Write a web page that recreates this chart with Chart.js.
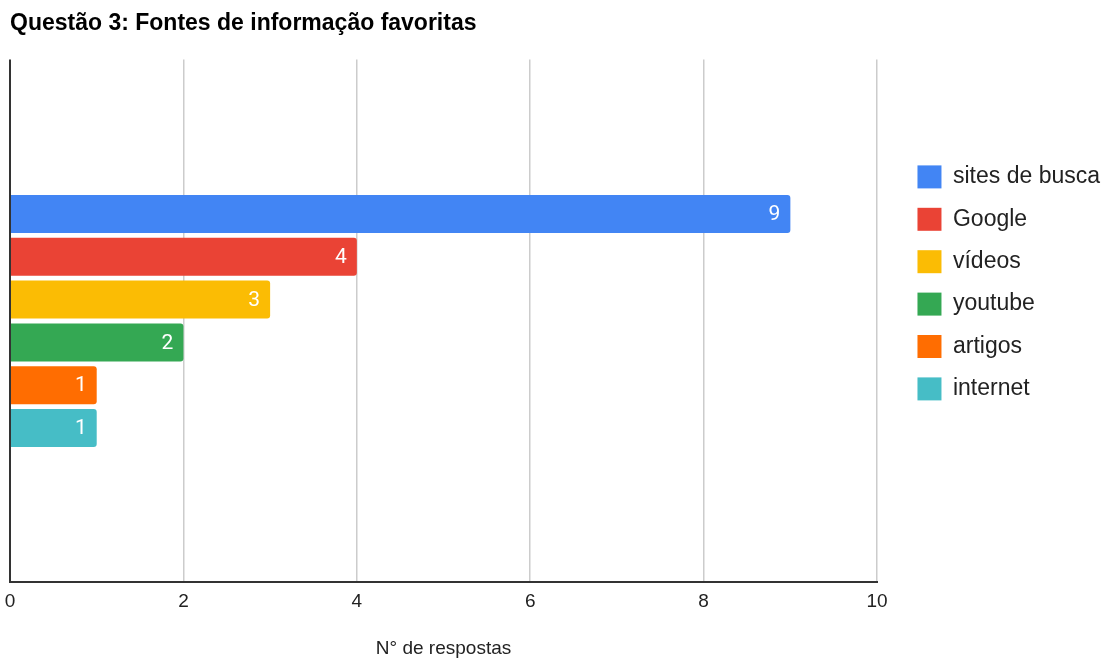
<!DOCTYPE html>
<html lang="pt">
<head>
<meta charset="utf-8">
<title>Questão 3</title>
<script src="https://cdn.jsdelivr.net/npm/chart.js@4"></script>
<style>
  html, body { margin: 0; padding: 0; background: #fff; }
  #chart { display: block; }
</style>
</head>
<body>
<canvas id="chart" width="1114" height="660"></canvas>
<script>
// respostas por fonte de informação
const fontes = ['sites de busca', 'Google', 'vídeos', 'youtube', 'artigos', 'internet'];
const respostas = [9, 4, 3, 2, 1, 1];
const cores = ['#4285f4', '#ea4335', '#fbbc04', '#34a853', '#ff6d01', '#46bdc6'];
const categorias = [''];
const escalaX = { min: 0, max: 10, passo: 2 };

// valor escrito em branco no fim de cada barra
const rotulosBarras = {
    id: 'rotulosBarras',
    afterDatasetsDraw(chart) {
        const ctx = chart.ctx;
        ctx.save();
        ctx.fillStyle = '#ffffff';
        ctx.font = '21px Roboto';
        ctx.textAlign = 'right';
        ctx.textBaseline = 'middle';
        chart.data.datasets.forEach((ds, i) => {
            chart.getDatasetMeta(i).data.forEach((bar, j) => {
                ctx.fillText(String(ds.data[j]), bar.x - 10, bar.y + 1);
            });
        });
        ctx.restore();
    }
};

// afasta a legenda do gráfico e desce a coluna de itens
const posLegenda = {
    id: 'posLegenda',
    afterLayout(chart) {
        const l = chart.legend;
        l.left += 21;
        l.right += 21;
        l.top += 146;
        l.bottom += 146;
    }
};

const ctx = document.getElementById('chart').getContext('2d');
new Chart(ctx, {
    type: 'bar',
    data: {
        labels: categorias,
        datasets: fontes.map((nome, i) => ({
            label: nome,
            data: [respostas[i]],
            backgroundColor: cores[i],
            borderRadius: 3,
            categoryPercentage: 0.491,
            barPercentage: 0.888
        }))
    },
    options: {
        indexAxis: 'y',
        responsive: false,
        animation: false,
        layout: { padding: { left: 10, right: 25, top: 0, bottom: 0 } },
        scales: {
            x: {
                min: escalaX.min,
                max: escalaX.max,
                // o "0" pode sair um pouco para a esquerda da área do gráfico
                afterFit(scale) { scale.paddingLeft = 0; },
                ticks: {
                    stepSize: escalaX.passo,
                    color: '#222',
                    padding: 8,
                    font: { family: 'Liberation Sans', size: 19 }
                },
                grid: {
                    // a linha do zero faz de eixo vertical
                    color: c => c.tick && c.tick.value === 0 ? '#333' : '#cccccc',
                    lineWidth: c => c.tick && c.tick.value === 0 ? 2 : 1.5,
                    drawTicks: false
                },
                border: { color: '#333', width: 2 },
                title: {
                    display: true,
                    text: 'N° de respostas',
                    color: '#222',
                    padding: { top: 16, bottom: 0 },
                    font: { family: 'Liberation Sans', size: 19 }
                }
            },
            y: { display: false }
        },
        plugins: {
            title: {
                display: true,
                text: 'Questão 3: Fontes de informação favoritas',
                align: 'start',
                color: '#000',
                padding: { top: 10, bottom: 22 },
                font: { family: 'Liberation Sans', size: 23, weight: 'bold' }
            },
            legend: {
                position: 'right',
                align: 'start',
                labels: {
                    boxWidth: 24,
                    boxHeight: 23,
                    padding: 19.4,
                    color: '#222',
                    font: { family: 'Liberation Sans', size: 23 }
                }
            },
            tooltip: { enabled: false }
        }
    },
    plugins: [rotulosBarras, posLegenda]
});
</script>
</body>
</html>
